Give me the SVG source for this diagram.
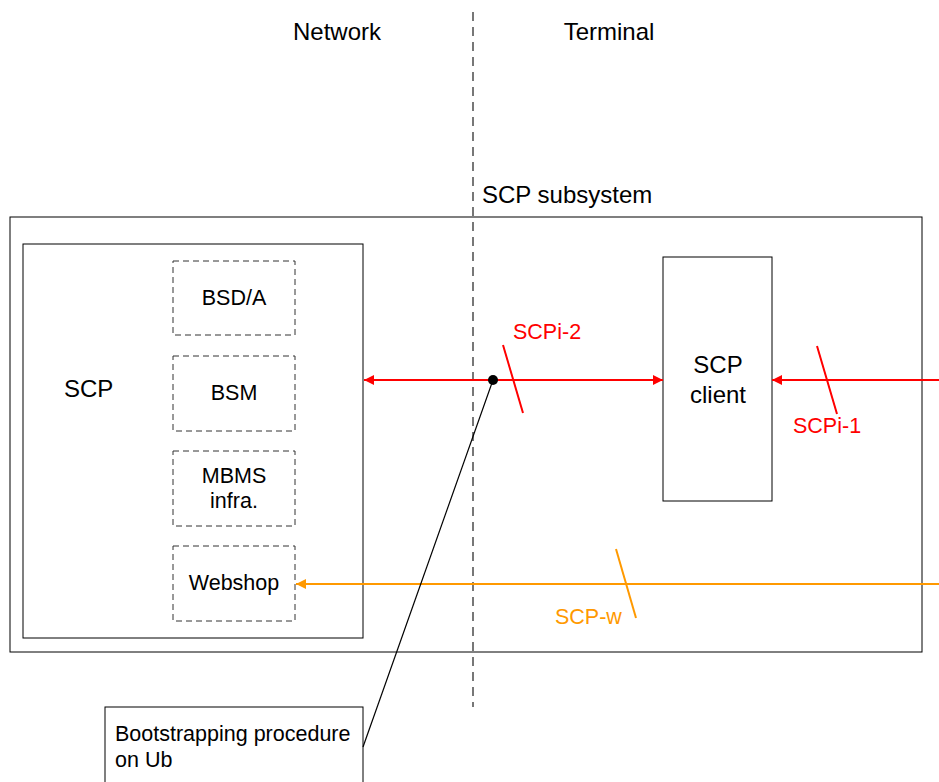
<svg xmlns="http://www.w3.org/2000/svg" width="939" height="782" viewBox="0 0 939 782">
<style>
text{font-family:"Liberation Sans",Arial,sans-serif;fill:#000}
.h{font-size:24px}
.s{font-size:21.5px}
.box{fill:#fff;stroke:#000;stroke-width:1}
.dbox{fill:#fff;stroke:#333;stroke-width:1;stroke-dasharray:6,4}
.red{stroke:#ff0000;stroke-width:2;fill:none}
.org{stroke:#ff9900;stroke-width:2;fill:none}
</style>
<defs>
<marker id="ar" viewBox="0 0 10 10" refX="10" refY="5" markerWidth="10" markerHeight="10" markerUnits="userSpaceOnUse" orient="auto-start-reverse"><path d="M0,0 L10,5 L0,10 z" fill="#ff0000"/></marker>
<marker id="ao" viewBox="0 0 10 10" refX="10" refY="5" markerWidth="10" markerHeight="10" markerUnits="userSpaceOnUse" orient="auto"><path d="M0,0 L10,5 L0,10 z" fill="#ff9900"/></marker>
</defs>
<rect width="939" height="782" fill="#fff"/>
<g id="headings">
<text class="h" x="337" y="40" text-anchor="middle">Network</text>
<text class="h" x="609" y="40" text-anchor="middle">Terminal</text>
</g>
<g id="subsystem">
<rect class="box" x="10" y="217" width="912" height="435"/>
<text class="h" x="482" y="203">SCP subsystem</text>
</g>
<g id="scp">
<rect class="box" x="23" y="244" width="340" height="394"/>
<text class="h" x="64" y="397">SCP</text>
</g>
<g id="bsda"><rect class="dbox" x="173" y="261" width="122" height="74"/><text class="s" x="234" y="305" text-anchor="middle">BSD/A</text></g>
<g id="bsm"><rect class="dbox" x="173" y="356" width="122" height="75"/><text class="s" x="234" y="400" text-anchor="middle">BSM</text></g>
<g id="mbms"><rect class="dbox" x="173" y="451" width="122" height="75"/><text class="s" x="234" y="483" text-anchor="middle">MBMS</text><text class="s" x="234" y="508" text-anchor="middle">infra.</text></g>
<g id="webshop"><rect class="dbox" x="173" y="546" width="122" height="75"/><text class="s" x="234" y="590" text-anchor="middle">Webshop</text></g>
<g id="client"><rect class="box" x="663" y="257" width="109" height="244"/><text class="h" x="718" y="373" text-anchor="middle">SCP</text><text class="h" x="718" y="403" text-anchor="middle">client</text></g>
<g id="bootstrap"><rect class="box" x="105" y="707" width="258" height="90"/><text class="s" x="115" y="741">Bootstrapping procedure</text><text class="s" x="115" y="767">on Ub</text></g>
<g id="divider"><line x1="473" y1="12" x2="473" y2="707" stroke="#777" stroke-width="2" stroke-dasharray="9,6"/></g>
<g id="connectors">
<line class="red" x1="364" y1="380" x2="663" y2="380" marker-start="url(#ar)" marker-end="url(#ar)"/>
<line class="red" x1="503" y1="345" x2="523" y2="413"/>
<line class="red" x1="939" y1="380" x2="772" y2="380" marker-end="url(#ar)"/>
<line class="red" x1="817" y1="346" x2="837" y2="414"/>
<line class="org" x1="939" y1="584" x2="296" y2="584" marker-end="url(#ao)"/>
<line class="org" x1="616" y1="549" x2="636" y2="618"/>
<line x1="493" y1="380" x2="363" y2="747" stroke="#000" stroke-width="1.2"/>
<circle cx="493" cy="380" r="5" fill="#000"/>
</g>
<g id="labels">
<text class="s" x="513" y="339" fill="#ff0000" style="fill:#ff0000">SCPi-2</text>
<text class="s" x="793" y="433" style="fill:#ff0000">SCPi-1</text>
<text class="s" x="555" y="624" style="fill:#ff9900">SCP-w</text>
</g>
</svg>
